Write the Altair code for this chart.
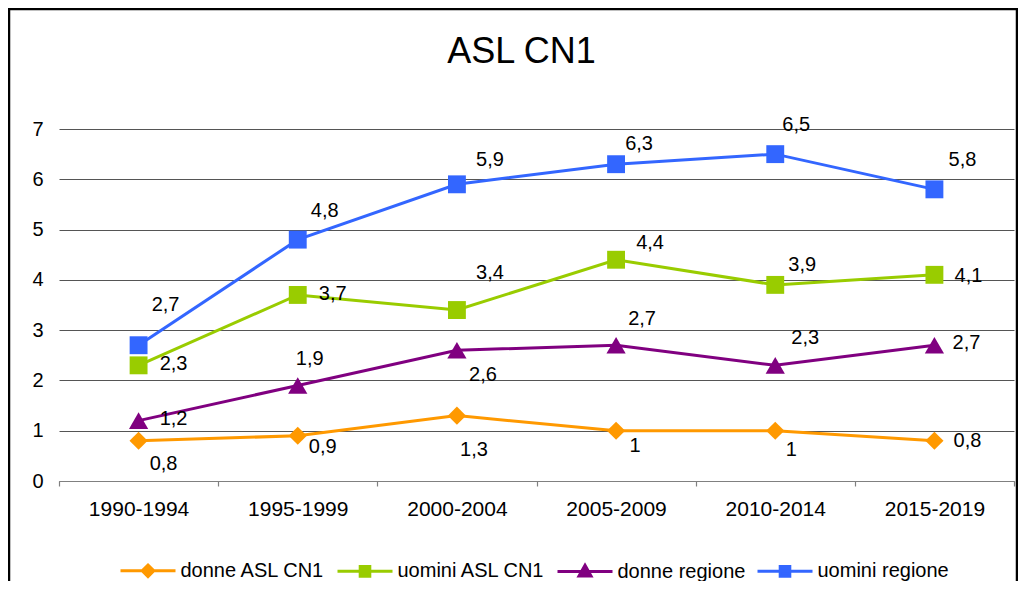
import altair as alt
import pandas as pd

PERIODS = ["1990-1994", "1995-1999", "2000-2004", "2005-2009", "2010-2014", "2015-2019"]
SERIES = ["donne ASL CN1", "uomini ASL CN1", "donne regione", "uomini regione"]
DONNE_ASL = [0.8, 0.9, 1.3, 1.0, 1.0, 0.8]
UOMINI_ASL = [2.3, 3.7, 3.4, 4.4, 3.9, 4.1]
DONNE_REG = [1.2, 1.9, 2.6, 2.7, 2.3, 2.7]
UOMINI_REG = [2.7, 4.8, 5.9, 6.3, 6.5, 5.8]
Y_TICKS = [0, 1, 2, 3, 4, 5, 6, 7]
TITLE = "ASL CN1"

# styles
COLORS = ["#FF9900", "#99CC00", "#800080", "#3366FF"]
SHAPES = ["diamond", "square", "triangle-up", "square"]
SIZES = [330, 320, 370, 320]
LEG_PATHS = [
    "M-2.75,0H2.75M0,-0.58L0.58,0L0,0.58L-0.58,0Z",
    "M-2.75,0H2.75M-0.48,-0.48H0.48V0.48H-0.48Z",
    "M-2.75,0H2.75M0,-0.62L0.6,0.45H-0.6Z",
    "M-2.75,0H2.75M-0.48,-0.48H0.48V0.48H-0.48Z",
]
# label offsets (pixels) relative to each point, per series
LABEL_DX = [[25, 25, 17, 19, 16, 33], [35, 35, 33, 34, 27, 34],
            [35, 12, 26, 26, 30, 32], [27, 27, 33, 23, 21, 28]]
LABEL_DY = [[23, 11, 34, 15, 19, 0], [-1, -1, -37, -17, -20, 1],
            [-2, -26, 25, -26, -27, -2], [-40, -29, -24, -20, -29, -29]]

FONT = "Liberation Sans"
FS = 20
W, H = 955, 352

values = [DONNE_ASL, UOMINI_ASL, DONNE_REG, UOMINI_REG]
rows = []
for si, s in enumerate(SERIES):
    for pi, p in enumerate(PERIODS):
        v = values[si][pi]
        lab = (f"{v:g}").replace(".", ",")
        rows.append({"period": p, "series": s, "value": v, "label": lab,
                     "dx": LABEL_DX[si][pi], "dy": LABEL_DY[si][pi]})
df = pd.DataFrame(rows)

x_enc = alt.X("period:N", sort=PERIODS, bandPosition=0.5,
              scale=alt.Scale(type="band", domain=PERIODS, paddingInner=0, paddingOuter=0),
              axis=alt.Axis(title=None, labelAngle=0, labelFontSize=FS + 1, labelFont=FONT,
                            labelColor="black", domainColor="#808080", tickColor="#808080",
                            tickSize=5, tickBand="extent", grid=False, labelPadding=12,
                            domainWidth=1.2, tickWidth=1.2))
y_enc = alt.Y("value:Q", scale=alt.Scale(domain=[0, 7], nice=False, zero=True),
              axis=alt.Axis(title=None, values=Y_TICKS, domain=False, ticks=False,
                            labelPadding=16, labelFontSize=FS, labelFont=FONT,
                            labelColor="black", gridColor="#555555", gridWidth=1))

color_scale = alt.Scale(domain=SERIES, range=COLORS)

series_layers = []
for i, s in enumerate(SERIES):
    base = alt.Chart(df).transform_filter(alt.datum.series == s)
    series_layers.append(
        base.mark_line(strokeWidth=3, color=COLORS[i]).encode(
            x=x_enc, y=y_enc, order=alt.Order("period:N"))
    )
for i, s in enumerate(SERIES):
    base = alt.Chart(df).transform_filter(alt.datum.series == s)
    series_layers.append(
        base.mark_point(shape=SHAPES[i], filled=True, size=SIZES[i],
                        color=COLORS[i], opacity=1).encode(x=x_enc, y=y_enc)
    )

labels = alt.Chart(df).mark_text(
    fontSize=FS, font=FONT, color="black", align="center", baseline="middle",
    dx={"expr": "datum.dx"}, dy={"expr": "datum.dy"}
).encode(x=x_enc, y=y_enc, text="label:N")

leg = alt.Legend(orient="none", legendX=77.5, legendY=430, direction="horizontal",
                 columns=4, title=None, symbolSize=400, symbolStrokeWidth=3,
                 symbolOpacity=1, labelFontSize=FS, labelFont=FONT, labelColor="black",
                 labelOffset=21, columnPadding=6, padding=0, labelLimit=300)
legend_layer = alt.Chart(df).transform_filter("false").mark_point(
    filled=True, strokeWidth=3
).encode(
    color=alt.Color("series:N", scale=color_scale, legend=leg),
    stroke=alt.Stroke("series:N", scale=color_scale, legend=leg),
    shape=alt.Shape("series:N", scale=alt.Scale(domain=SERIES, range=LEG_PATHS), legend=leg),
)

one = pd.DataFrame({"a": [0]})
frame_top = alt.Chart(one).mark_rule(color="black", strokeWidth=2.5).encode(
    x=alt.value(-50), x2=alt.value(W + 3), y=alt.value(-120))
frame_left = alt.Chart(one).mark_rule(color="black", strokeWidth=2.5).encode(
    x=alt.value(-50), y=alt.value(-121), y2=alt.value(H + 110))
frame_right = alt.Chart(one).mark_rule(color="black", strokeWidth=2.5).encode(
    x=alt.value(W + 3), y=alt.value(-121), y2=alt.value(H + 110))

chart = alt.layer(
    frame_top, frame_left, frame_right, *series_layers, labels, legend_layer
).properties(
    width=W, height=H,
    title=alt.TitleParams(TITLE, fontSize=36, font=FONT, fontWeight="normal",
                          color="black", anchor="middle", dx=-15, offset=-92,
                          frame="group", baseline="alphabetic"),
    autosize=alt.AutoSizeParams(type="none"),
    padding={"left": 51, "top": 121, "right": 4, "bottom": 100},
).configure_view(stroke=None)

chart.save("out.html", embed_options={"renderer": "svg", "actions": False})
